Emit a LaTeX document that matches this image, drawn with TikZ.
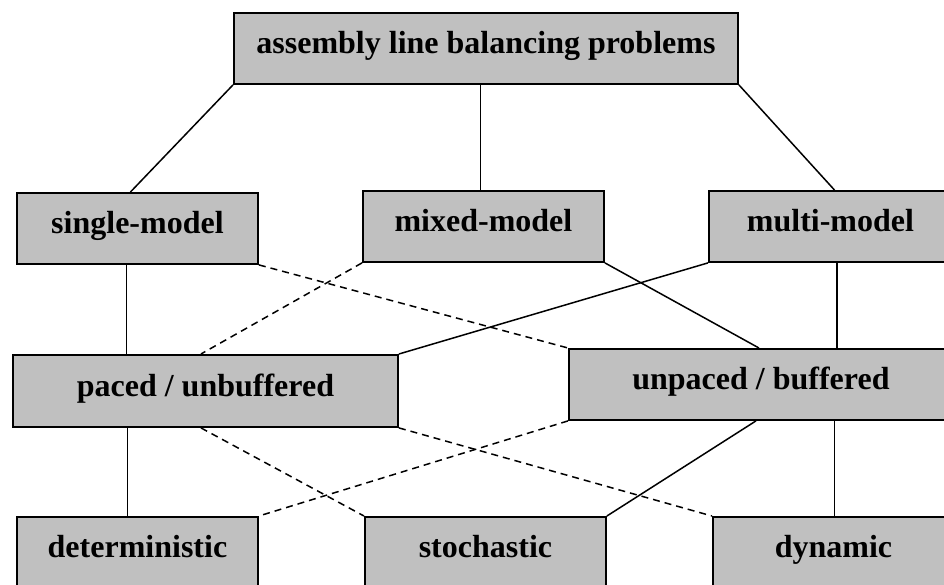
\documentclass[tikz,border=0pt]{standalone}
\usepackage{fontspec}
\setmainfont{Liberation Serif}
\usetikzlibrary{calc}
\definecolor{boxgray}{HTML}{C0C0C0}
\tikzset{
  catbox/.style={draw=black, fill=boxgray, line width=1.9pt, anchor=north west,
    minimum height=71pt, inner sep=0pt, text height=20pt, text depth=9pt,
    font=\fontsize{32}{38}\selectfont\bfseries},
  link/.style={draw=black, line width=1.5pt},
  dlink/.style={link, dash pattern=on 7pt off 5pt}
}
\begin{document}
\begin{tikzpicture}[x=1pt, y=-1pt]
  \clip (0,0) rectangle (944,585);
  \fill[white] (0,0) rectangle (944,585);

  % boxes
  \node[catbox, minimum width=504pt] (top) at (233,12) {assembly line balancing problems};
  \node[catbox, minimum width=241pt] (single) at (16,192) {single-model};
  \node[catbox, minimum width=241pt] (mixed) at (362,190) {mixed-model};
  \node[catbox, minimum width=243pt] (multi) at (708,190) {multi-model};
  \node[catbox, minimum width=385pt, minimum height=72pt] (paced) at (12,354) {paced / unbuffered};
  \node[catbox, minimum width=384pt] (unpaced) at (568,348) {unpaced / buffered};
  \node[catbox, minimum width=241pt] (det) at (16,516) {deterministic};
  \node[catbox, minimum width=241pt] (sto) at (364,516) {stochastic};
  \node[catbox, minimum width=241pt] (dyn) at (712,516) {dynamic};

  % level 1: problem classes by number of models
  \draw[link] (top.south west) -- ([xshift=-7pt]single.north);
  \draw[link] ([xshift=-3pt]mixed.north |- top.south) -- ([xshift=-3pt]mixed.north);
  \draw[link] (top.south east) -- ([xshift=4pt]multi.north);

  % level 2: line control
  \draw[link] ([xshift=-11pt]single.south) -- ([xshift=-11pt]single.south |- paced.north);
  \draw[dlink] (single.south east) -- (unpaced.north west);
  \draw[dlink] (mixed.south west) -- ([xshift=-4.5pt]paced.north);
  \draw[link] (mixed.south east) -- ([xshift=-2pt]unpaced.north);
  \draw[link] (multi.south west) -- (paced.north east);
  \draw[link] ([xshift=6.5pt]multi.south) -- ([xshift=6.5pt]multi.south |- unpaced.north);

  % level 3: task times
  \draw[link] ([xshift=-10pt]det.north |- paced.south) -- ([xshift=-10pt]det.north);
  \draw[dlink] ([xshift=-4.5pt]paced.south) -- (sto.north west);
  \draw[dlink] (paced.south east) -- (dyn.north west);
  \draw[dlink] (unpaced.south west) -- (det.north east);
  \draw[link] ([xshift=-5pt]unpaced.south) -- (sto.north east);
  \draw[link] ([xshift=1pt]dyn.north |- unpaced.south) -- ([xshift=1pt]dyn.north);
\end{tikzpicture}
\end{document}
